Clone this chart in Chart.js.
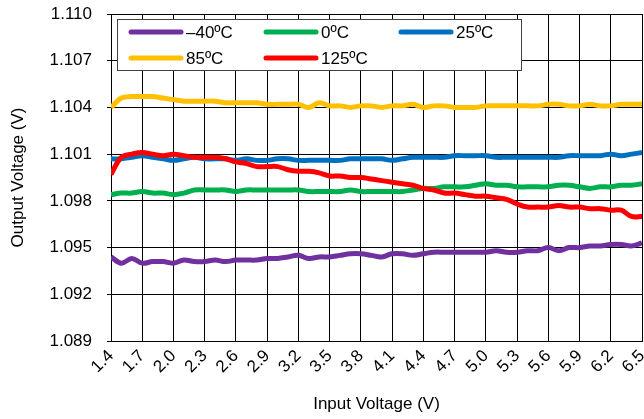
<!DOCTYPE html>
<html>
<head>
<meta charset="utf-8">
<script src="https://cdn.jsdelivr.net/npm/chart.js@4/dist/chart.umd.min.js"></script>
<style>
    html, body { margin: 0; padding: 0; background: #fff; }
    #wrap { width: 644px; height: 419px; }
</style>
</head>
<body>
<div id="wrap"><canvas id="lineChart"></canvas></div>
<script>
const inputVoltage = [
    1.4, 1.5, 1.6, 1.7, 1.8, 1.9, 2.0, 2.1, 2.2, 2.3, 2.4, 2.5, 2.6,
    2.7, 2.8, 2.9, 3.0, 3.1, 3.2, 3.3, 3.4, 3.5, 3.6, 3.7, 3.8, 3.9,
    4.0, 4.1, 4.2, 4.3, 4.4, 4.5, 4.6, 4.7, 4.8, 4.9, 5.0, 5.1, 5.2,
    5.3, 5.4, 5.5, 5.6, 5.7, 5.8, 5.9, 6.0, 6.1, 6.2, 6.3, 6.4, 6.5
];

const vMinus40 = [
    1.0944, 1.0940, 1.0943, 1.0940, 1.0941, 1.0941, 1.0940, 1.0942, 1.0941, 1.0941, 1.0942, 1.0941, 1.0942,
    1.0942, 1.0942, 1.0943, 1.0943, 1.0944, 1.0945, 1.0943, 1.0944, 1.0944, 1.0945, 1.0946, 1.0946, 1.0945,
    1.0944, 1.0946, 1.0946, 1.0945, 1.0946, 1.0947, 1.0947, 1.0947, 1.0947, 1.0947, 1.0947, 1.0948, 1.0947,
    1.0947, 1.0948, 1.0948, 1.0950, 1.0948, 1.0950, 1.0950, 1.0951, 1.0951, 1.0952, 1.0952, 1.0951, 1.0953
];

const v0 = [
    1.0984, 1.0985, 1.0985, 1.0986, 1.0985, 1.0985, 1.0984, 1.0985, 1.0987, 1.0987, 1.0987, 1.0987, 1.0986,
    1.0987, 1.0987, 1.0987, 1.0987, 1.0987, 1.0987, 1.0986, 1.0986, 1.0986, 1.0986, 1.0987, 1.0986, 1.0986,
    1.0986, 1.0986, 1.0986, 1.0987, 1.0988, 1.0988, 1.0989, 1.0989, 1.0989, 1.0990, 1.0991, 1.0990, 1.0990,
    1.0989, 1.0989, 1.0989, 1.0989, 1.0990, 1.0990, 1.0989, 1.0988, 1.0989, 1.0989, 1.0990, 1.0990, 1.0991
];

const v25 = [
    1.1007, 1.1007, 1.1008, 1.1009, 1.1008, 1.1007, 1.1006, 1.1007, 1.1008, 1.1007, 1.1007, 1.1007, 1.1006,
    1.1007, 1.1006, 1.1006, 1.1007, 1.1007, 1.1006, 1.1006, 1.1006, 1.1006, 1.1006, 1.1007, 1.1007, 1.1007,
    1.1007, 1.1006, 1.1007, 1.1008, 1.1008, 1.1008, 1.1008, 1.1009, 1.1009, 1.1009, 1.1009, 1.1008, 1.1008,
    1.1008, 1.1008, 1.1008, 1.1008, 1.1008, 1.1009, 1.1009, 1.1009, 1.1009, 1.1010, 1.1009, 1.1010, 1.1011
];

const v85 = [
    1.1040, 1.1046, 1.1047, 1.1047, 1.1047, 1.1046, 1.1045, 1.1044, 1.1044, 1.1044, 1.1044, 1.1043, 1.1043,
    1.1043, 1.1043, 1.1042, 1.1042, 1.1042, 1.1042, 1.1040, 1.1043, 1.1041, 1.1041, 1.1040, 1.1041, 1.1041,
    1.1040, 1.1041, 1.1041, 1.1042, 1.1040, 1.1041, 1.1041, 1.1040, 1.1040, 1.1040, 1.1041, 1.1041, 1.1041,
    1.1041, 1.1041, 1.1041, 1.1042, 1.1042, 1.1041, 1.1041, 1.1042, 1.1041, 1.1041, 1.1042, 1.1042, 1.1042
];

const v125 = [
    1.0997, 1.1008, 1.1010, 1.1011, 1.1010, 1.1009, 1.1010, 1.1009, 1.1008, 1.1008, 1.1008, 1.1007, 1.1005,
    1.1004, 1.1002, 1.1002, 1.1002, 1.1000, 1.0999, 1.0999, 1.0998, 1.0996, 1.0996, 1.0995, 1.0995, 1.0994,
    1.0993, 1.0992, 1.0991, 1.0990, 1.0988, 1.0987, 1.0985, 1.0985, 1.0984, 1.0983, 1.0983, 1.0982, 1.0981,
    1.0978, 1.0976, 1.0976, 1.0976, 1.0977, 1.0976, 1.0976, 1.0975, 1.0975, 1.0974, 1.0974, 1.0970, 1.0970
];

const seriesLabels = ["\u201340\u00BAC", "0\u00BAC", "25\u00BAC", "85\u00BAC", "125\u00BAC"];
const seriesColors = ["#7030A0", "#00B050", "#0070C0", "#FFC000", "#FF0000"];

const xTicks = [1.4, 1.7, 2.0, 2.3, 2.6, 2.9, 3.2, 3.5, 3.8, 4.1, 4.4, 4.7, 5.0, 5.3, 5.6, 5.9, 6.2, 6.5];
const yTicks = [1.089, 1.092, 1.095, 1.098, 1.101, 1.104, 1.107, 1.110];

const FONT = "'Liberation Sans', Arial, sans-serif";

// legend drawn inside the plot area, 3 columns like the original
const boxLegend = {
    id: "boxLegend",
    afterDraw(chart) {
        const ctx = chart.ctx;
        const area = chart.chartArea;
        const left = area.left + 6;
        const top = area.top + 5;

        ctx.save();
        ctx.fillStyle = "#fff";
        ctx.fillRect(left, top, 404, 51);
        ctx.strokeStyle = "#404040";
        ctx.lineWidth = 1;
        ctx.strokeRect(left + 0.5, top + 0.5, 404, 51);

        ctx.font = "17px " + FONT;
        ctx.textBaseline = "middle";
        ctx.lineCap = "round";

        chart.data.datasets.forEach((ds, i) => {
            const col = i < 3 ? i : i - 3;
            const row = i < 3 ? 0 : 1;
            const x = left + 12 + col * 135;
            const y = top + 13 + row * 26;

            ctx.strokeStyle = ds.borderColor;
            ctx.lineWidth = 5;
            ctx.beginPath();
            ctx.moveTo(x + 2, y);
            ctx.lineTo(x + 52, y);
            ctx.stroke();

            ctx.fillStyle = "#000";
            ctx.fillText(ds.label, x + 57, y + 1);
        });
        ctx.restore();
    }
};

const allSeries = [vMinus40, v0, v25, v85, v125];

const datasets = allSeries.map((vals, i) => ({
    label: seriesLabels[i],
    data: vals.map((v, j) => ({ x: inputVoltage[j], y: v })),
    borderColor: seriesColors[i],
    backgroundColor: seriesColors[i],
    borderWidth: 5,
    pointRadius: 0,
    tension: 0.4,
    fill: false,
    order: i === 4 ? 0 : 1
}));

const ctx = document.getElementById("lineChart").getContext("2d");

new Chart(ctx, {
    type: "line",
    data: { datasets },
    options: {
        responsive: true,
        maintainAspectRatio: false,
        animation: false,
        layout: { padding: { top: 14, right: 2, left: 0, bottom: 0 } },
        plugins: {
            legend: { display: false },
            tooltip: { enabled: false }
        },
        scales: {
            x: {
                type: "linear",
                min: 1.4,
                max: 6.5,
                afterBuildTicks: scale => {
                    scale.ticks = xTicks.map(v => ({ value: v }));
                },
                afterFit: scale => {
                    scale.height = 78;
                    scale.paddingLeft = 0;
                    scale.paddingRight = 0;
                },
                ticks: {
                    autoSkip: false,
                    minRotation: 45,
                    maxRotation: 45,
                    padding: 5,
                    color: "#000",
                    font: { family: FONT, size: 17 },
                    callback: v => v.toFixed(1)
                },
                grid: { color: "#000", lineWidth: 1, drawTicks: false },
                border: { color: "#000", width: 1 },
                title: {
                    display: true,
                    text: "Input Voltage (V)",
                    color: "#000",
                    font: { family: FONT, size: 17 },
                    padding: { top: 0, bottom: 4 }
                }
            },
            y: {
                min: 1.089,
                max: 1.110,
                afterBuildTicks: scale => {
                    scale.ticks = yTicks.map(v => ({ value: v }));
                },
                afterFit: scale => {
                    scale.width = 111;
                    scale.paddingTop = 0;
                    scale.paddingBottom = 0;
                },
                ticks: {
                    padding: 15,
                    color: "#000",
                    font: { family: FONT, size: 17 },
                    callback: v => v.toFixed(3)
                },
                grid: { color: "#000", lineWidth: 1, tickLength: 4 },
                border: { color: "#000", width: 1 },
                title: {
                    display: true,
                    text: "Output Voltage (V)",
                    color: "#000",
                    font: { family: FONT, size: 17 },
                    padding: { top: 8, bottom: 0 }
                }
            }
        }
    },
    plugins: [boxLegend]
});
</script>
</body>
</html>
